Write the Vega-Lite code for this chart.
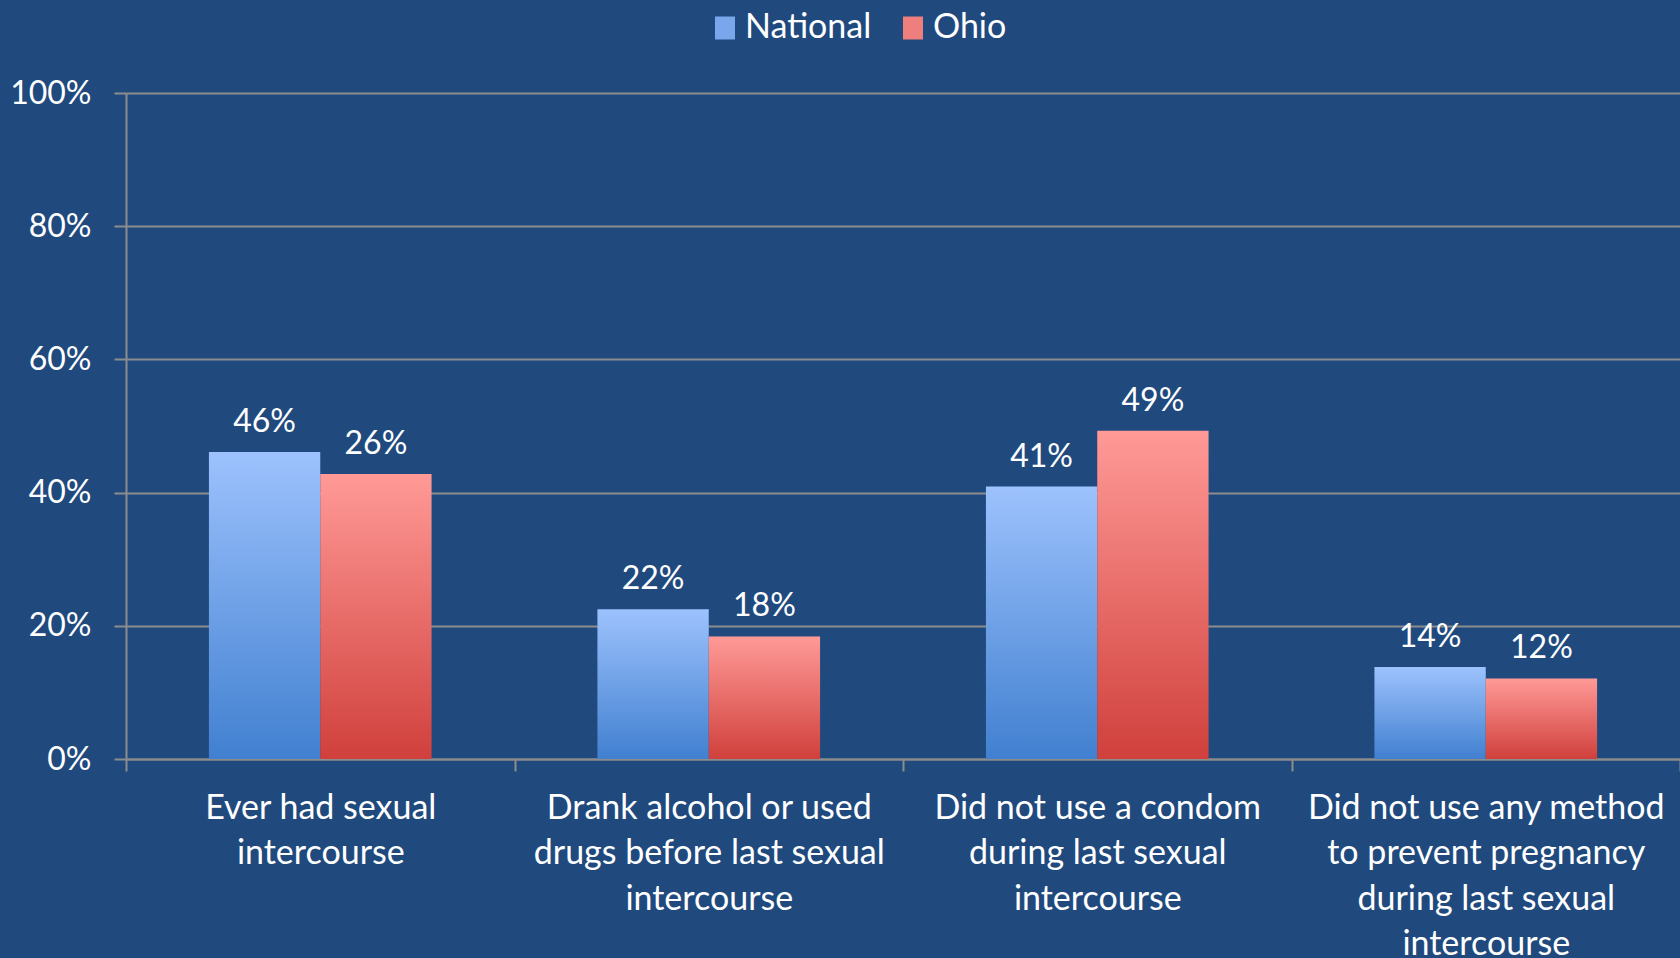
{
  "$schema": "https://vega.github.io/schema/vega-lite/v6.json",
  "autosize": {"type": "none"},
  "padding": {"left": 126, "top": 93, "right": 0, "bottom": 199},
  "width": 1554,
  "height": 666,
  "background": "#204a7e",
  "config": {
    "view": {"stroke": null},
    "font": "Lato",
    "axis": {"labelFont": "Lato", "labelColor": "#ffffff", "domainColor": "#8c8c8c", "tickColor": "#8c8c8c", "gridColor": "#8c8c8c", "domainWidth": 2, "tickWidth": 2, "gridWidth": 2}
  },
  "data": {
    "values": [
      {"category": "Ever had sexual intercourse", "series": "National", "value": 46.1, "label": "46%"},
      {"category": "Ever had sexual intercourse", "series": "Ohio", "value": 42.8, "label": "26%"},
      {"category": "Drank alcohol or used drugs before last sexual intercourse", "series": "National", "value": 22.5, "label": "22%"},
      {"category": "Drank alcohol or used drugs before last sexual intercourse", "series": "Ohio", "value": 18.4, "label": "18%"},
      {"category": "Did not use a condom during last sexual intercourse", "series": "National", "value": 40.9, "label": "41%"},
      {"category": "Did not use a condom during last sexual intercourse", "series": "Ohio", "value": 49.3, "label": "49%"},
      {"category": "Did not use any method to prevent pregnancy during last sexual intercourse", "series": "National", "value": 13.8, "label": "14%"},
      {"category": "Did not use any method to prevent pregnancy during last sexual intercourse", "series": "Ohio", "value": 12.1, "label": "12%"}
    ]
  },
  "encoding": {
    "x": {
      "field": "category", "type": "nominal", "sort": null, "title": null,
      "scale": {"paddingInner": 0, "paddingOuter": 0},
      "axis": {
        "labelAngle": 0, "labelFontSize": 34, "labelLineHeight": 45.5, "labelBaseline": "top",
        "labelPadding": 20, "tickSize": 12, "tickBand": "extent", "labelLimit": 400,
        "labelExpr": "datum.value === 'Ever had sexual intercourse' ? ['Ever had sexual', 'intercourse'] : datum.value === 'Drank alcohol or used drugs before last sexual intercourse' ? ['Drank alcohol or used', 'drugs before last sexual', 'intercourse'] : datum.value === 'Did not use a condom during last sexual intercourse' ? ['Did not use a condom', 'during last sexual', 'intercourse'] : datum.value === 'Did not use any method to prevent pregnancy during last sexual intercourse' ? ['Did not use any method', 'to prevent pregnancy', 'during last sexual', 'intercourse'] : ''"
      }
    },
    "xOffset": {"field": "series", "type": "nominal", "scale": {"paddingInner": 0, "paddingOuter": 0.745}},
    "y": {
      "field": "value", "type": "quantitative", "title": null,
      "scale": {"domain": [0, 100]},
      "axis": {"values": [0, 20, 40, 60, 80, 100], "labelExpr": "datum.value + '%'", "labelFontSize": 32, "labelPadding": 23, "tickSize": 12, "grid": true}
    }
  },
  "layer": [
    {
      "mark": {"type": "bar", "opacity": 0},
      "encoding": {
        "color": {
          "field": "series", "type": "nominal",
          "scale": {"domain": ["National", "Ohio"], "range": ["#7aa6ec", "#ee7f7c"]},
          "legend": {
            "title": null, "orient": "none", "legendX": 582, "legendY": -82, "direction": "horizontal",
            "symbolType": "M-0.87,-1h1.74v2h-1.74z", "symbolSize": 529, "symbolStrokeWidth": 0, "symbolOpacity": 1,
            "labelFontSize": 34, "labelColor": "#ffffff", "labelFont": "Lato", "labelOffset": 3, "columnPadding": 24
          }
        }
      }
    },
    {
      "mark": {"type": "bar"},
      "encoding": {
        "fill": {
          "condition": {
            "test": "datum.series === 'National'",
            "value": {"gradient": "linear", "x1": 0, "y1": 0, "x2": 0, "y2": 1, "stops": [{"offset": 0, "color": "#9dc2fd"}, {"offset": 1, "color": "#4180d0"}]}
          },
          "value": {"gradient": "linear", "x1": 0, "y1": 0, "x2": 0, "y2": 1, "stops": [{"offset": 0, "color": "#ff9a97"}, {"offset": 1, "color": "#d0403c"}]}
        }
      }
    },
    {
      "mark": {"type": "text", "baseline": "alphabetic", "dy": -20, "fontSize": 32, "color": "#ffffff", "font": "Lato"},
      "encoding": {"text": {"field": "label"}}
    }
  ]
}
